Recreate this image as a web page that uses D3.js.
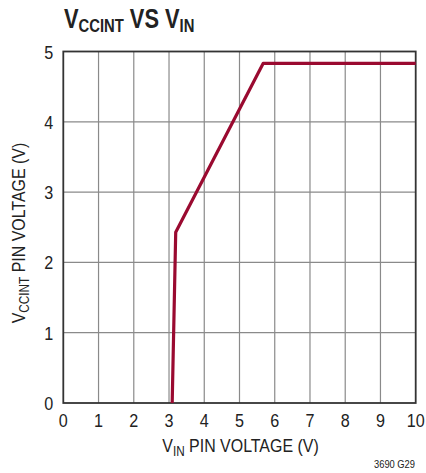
<!DOCTYPE html>
<html lang="en">
<head>
<meta charset="UTF-8"/>
<title>VCCINT vs VIN</title>
<script src="https://d3js.org/d3.v7.min.js"></script>
<style>
  body { margin: 0; background: #fff; }
  text { font-family: "Liberation Sans Narrow", "Liberation Sans", Arial, sans-serif; fill: #222; }
</style>
</head>
<body>
<script>

    // data (V_IN, V_CCINT)
    var vin    = [3.09, 3.19, 5.67, 10];
    var vccint = [0,    2.43, 4.83, 4.83];
    var xTicks = [0,1,2,3,4,5,6,7,8,9,10];
    var yTicks = [0,1,2,3,4,5];

    var w = 426, h = 473;
    var pLeft = 63.3, pRight = 415.7, pTop = 51.5, pBottom = 403;

    var svg = d3.select("body")
                .append("svg")
                .attr("width", w)
                .attr("height", h);

    var xScale = d3.scaleLinear().domain([0, 10]).range([pLeft, pRight]);
    var yScale = d3.scaleLinear().domain([0, 5]).range([pBottom, pTop]);

    // grid
    svg.selectAll("line.vgrid")
        .data(xTicks.slice(1, -1))
        .enter()
        .append("line")
        .attr("x1", function(d) { return xScale(d); })
        .attr("x2", function(d) { return xScale(d); })
        .attr("y1", pTop)
        .attr("y2", pBottom)
        .attr("stroke", "#8a8a8a")
        .attr("stroke-width", 1.2);

    svg.selectAll("line.hgrid")
        .data(yTicks.slice(1, -1))
        .enter()
        .append("line")
        .attr("x1", pLeft)
        .attr("x2", pRight)
        .attr("y1", function(d) { return yScale(d); })
        .attr("y2", function(d) { return yScale(d); })
        .attr("stroke", "#8a8a8a")
        .attr("stroke-width", 1.2);

    // frame
    svg.append("rect")
        .attr("x", pLeft)
        .attr("y", pTop)
        .attr("width", pRight - pLeft)
        .attr("height", pBottom - pTop)
        .attr("fill", "none")
        .attr("stroke", "#333")
        .attr("stroke-width", 1.8);

    // tick labels (squeezed a bit to look condensed)
    svg.selectAll("text.xt")
        .data(xTicks)
        .enter()
        .append("text")
        .attr("transform", function(d) { return "translate(" + xScale(d) + "," + (pBottom + 24) + ") scale(0.85,1)"; })
        .attr("text-anchor", "middle")
        .attr("font-size", "19px")
        .text(function(d) { return d; });

    svg.selectAll("text.yt")
        .data(yTicks)
        .enter()
        .append("text")
        .attr("transform", function(d) { return "translate(" + (pLeft - 10) + "," + (yScale(d) + 7) + ") scale(0.85,1)"; })
        .attr("text-anchor", "end")
        .attr("font-size", "19px")
        .text(function(d) { return d; });

    // the curve
    var line = d3.line()
        .x(function(d, i) { return xScale(vin[i]); })
        .y(function(d, i) { return yScale(vccint[i]); });

    svg.append("path")
        .datum(vin)
        .attr("d", line)
        .attr("fill", "none")
        .attr("stroke", "#9a0a30")
        .attr("stroke-width", 3.2)
        .attr("stroke-linejoin", "round");

    // title
    var title = svg.append("text")
        .attr("transform", "translate(64,28) scale(0.78,1)")
        .attr("font-size", "28px")
        .attr("font-weight", "bold");
    title.append("tspan").text("V");
    title.append("tspan").attr("font-size", "19px").attr("dy", 4).text("CCINT");
    title.append("tspan").attr("dy", -4).text(" VS V");
    title.append("tspan").attr("font-size", "19px").attr("dy", 4).text("IN");

    // x axis label
    var xl = svg.append("text")
        .attr("transform", "translate(" + ((pLeft + pRight) / 2 + 1) + ",452) scale(0.84,1)")
        .attr("text-anchor", "middle")
        .attr("font-size", "19px");
    xl.append("tspan").text("V");
    xl.append("tspan").attr("font-size", "14px").attr("dy", 4).text("IN");
    xl.append("tspan").attr("dy", -4).text(" PIN VOLTAGE (V)");

    // y axis label
    var yl = svg.append("text")
        .attr("transform", "translate(25,233) rotate(-90) scale(0.84,1)")
        .attr("text-anchor", "middle")
        .attr("font-size", "19px");
    yl.append("tspan").text("V");
    yl.append("tspan").attr("font-size", "14px").attr("dy", 4).text("CCINT");
    yl.append("tspan").attr("dy", -4).text(" PIN VOLTAGE (V)");

    svg.append("text")
        .attr("transform", "translate(415,468) scale(0.85,1)")
        .attr("text-anchor", "end")
        .attr("font-size", "11px")
        .text("3690 G29");
</script>
</body>
</html>
